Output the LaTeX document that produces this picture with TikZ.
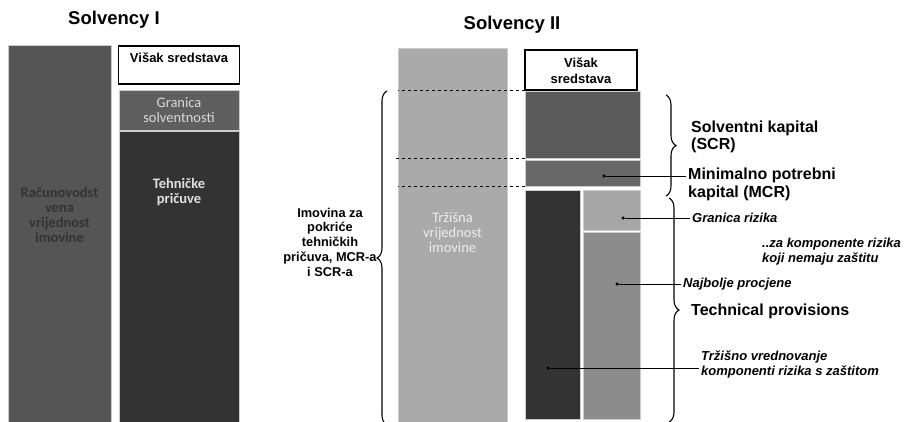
\documentclass[tikz,border=0pt]{standalone}
\usepackage{fontspec}
\setmainfont{Liberation Sans}
\newfontfamily\colfont{Carlito}
\usetikzlibrary{decorations.pathreplacing,positioning,calc}
\definecolor{sgmid}{HTML}{555555}
\definecolor{sgdark}{HTML}{333333}
\definecolor{sgsolv}{HTML}{5F5F5F}
\definecolor{sgscr}{HTML}{5A5A5A}
\definecolor{sgmcr}{HTML}{686868}
\definecolor{sglight}{HTML}{AAAAAA}
\definecolor{sgrisk}{HTML}{A6A6A6}
\definecolor{sgbest}{HTML}{8C8C8C}

\begin{document}
\begin{tikzpicture}[
  x=1pt,y=-1pt,
  block/.style={draw=white!80!black,line width=0.6pt,inner sep=0pt},
  surplus/.style={draw=black,line width=1.3pt,fill=white,inner sep=0pt},
  coltext/.style={font=\colfont\bfseries\fontsize{14.5}{15}\selectfont,align=center},
  title/.style={font=\bfseries\fontsize{18.5}{20}\selectfont},
  small/.style={font=\bfseries\fontsize{13}{16}\selectfont,align=center},
  biglabel/.style={font=\bfseries\fontsize{16}{17.5}\selectfont,align=left,inner sep=2pt},
  note/.style={font=\bfseries\itshape\fontsize{13}{15}\selectfont,align=left,inner sep=2pt},
  dot/.style={circle,fill=black,inner sep=0pt,minimum size=3.5pt},
  lead/.style={line width=0.9pt},
  cbrace/.style={decorate,decoration={brace,amplitude=10pt},line width=1.1pt},
  level/.style={dashed,line width=0.9pt}
]
  \useasboundingbox (0,0) rectangle (904,421);

  % Solvency I
  \node[title] (t1) at (114,20) {Solvency I};
  \node[block,fill=sgmid,minimum width=103,minimum height=378] (book) at (59.5,234) {};
  \node[surplus,minimum width=121,minimum height=38] (sur1) at (179,65) {};
  \node[small] at (179,58) {Višak sredstava};
  \node[block,fill=sgsolv,minimum width=120,minimum height=40] (solv) at (179,110) {};
  \node[coltext,font=\colfont\fontsize{14.5}{15}\selectfont,white!85!black] at (179,110) {Granica\\solventnosti};
  \node[block,fill=sgdark,minimum width=120,minimum height=292] (tp1) at (179,277) {};
  \node[coltext,white!88!black] at (179,192) {Tehničke\\pričuve};
  \node[coltext,sgdark] at (59.5,215) {Računovodst\\vena\\vrijednost\\imovine};

  % Solvency II
  \node[title] (t2) at (512,25) {Solvency II};
  \node[block,fill=sglight,minimum width=109,minimum height=375] (mv) at (452.5,235.5) {};
  \node[coltext,font=\colfont\fontsize{14.5}{15}\selectfont,white!93!black] at (452.5,233) {Tržišna\\vrijednost\\imovine};
  \node[surplus,minimum width=112,minimum height=40] (sur2) at (581,70) {};
  \node[small] at (581,71) {Višak\\sredstava};
  \node[block,fill=sgscr,minimum width=115,minimum height=67] (scr) at (582.5,124.5) {};
  \node[block,fill=sgmcr,minimum width=115,minimum height=26] (mcr) at (582.5,173) {};
  \node[block,fill=sgdark,minimum width=55,minimum height=229] (hedge) at (552.5,304.5) {};
  \node[block,fill=sgrisk,minimum width=57,minimum height=40] (risk) at (611.5,210) {};
  \node[block,fill=sgbest,minimum width=57,minimum height=187] (best) at (611.5,325.5) {};

  % levels
  \draw[level] (scr.north west) -- (scr.north west -| mv.west);
  \draw[level] (scr.south west) -- ($(scr.south west -| mv.west)+(-3,0)$);
  \draw[level] (hedge.north west)+(0,-3) -- ($(hedge.north west -| mv.west)+(0,-3)$);

  % braces
  \draw[cbrace] (387,425) -- (387,91) coordinate[midway] (lbr);
  \node[font=\bfseries\fontsize{12.8}{14.75}\selectfont,align=center] (assets) at (330,242) {Imovina za\\pokriće\\tehničkih\\pričuva, MCR-a\\i SCR-a};
  \draw[cbrace] (666,95) -- (666,196);
  \draw[cbrace] (669,198) -- (669,422);

  % labels
  \node[biglabel,anchor=west] (scrlbl) at (689,137) {Solventni kapital\\(SCR)};
  \node[dot] (mcrdot) at (604,176) {};
  \node[biglabel,anchor=north west] (mcrlbl) at (686,166) {Minimalno potrebni\\kapital (MCR)};
  \draw[lead] (mcrdot) -- (mcrdot -| mcrlbl.west);
  \node[dot] (riskdot) at (623,218) {};
  \node[note,anchor=west] (risklbl) at (690,218) {Granica rizika};
  \draw[lead] (riskdot) -- (risklbl.west);
  \node[note,anchor=north west] (nohedge) at (760,236) {..za komponente rizika\\koji nemaju zaštitu};
  \node[dot] (bestdot) at (617,284) {};
  \node[note,anchor=west] (bestlbl) at (681,284) {Najbolje procjene};
  \draw[lead] (bestdot) -- (bestlbl.west);
  \node[biglabel,anchor=west] (tplbl) at (689,311) {Technical provisions};
  \node[dot] (hedgedot) at (548,368) {};
  \node[note,anchor=west] (hedgelbl) at (699,364) {Tržišno vrednovanje\\komponenti rizika s zaštitom};
  \draw[lead] (hedgedot) -- (hedgedot -| hedgelbl.west);
\end{tikzpicture}
\end{document}
